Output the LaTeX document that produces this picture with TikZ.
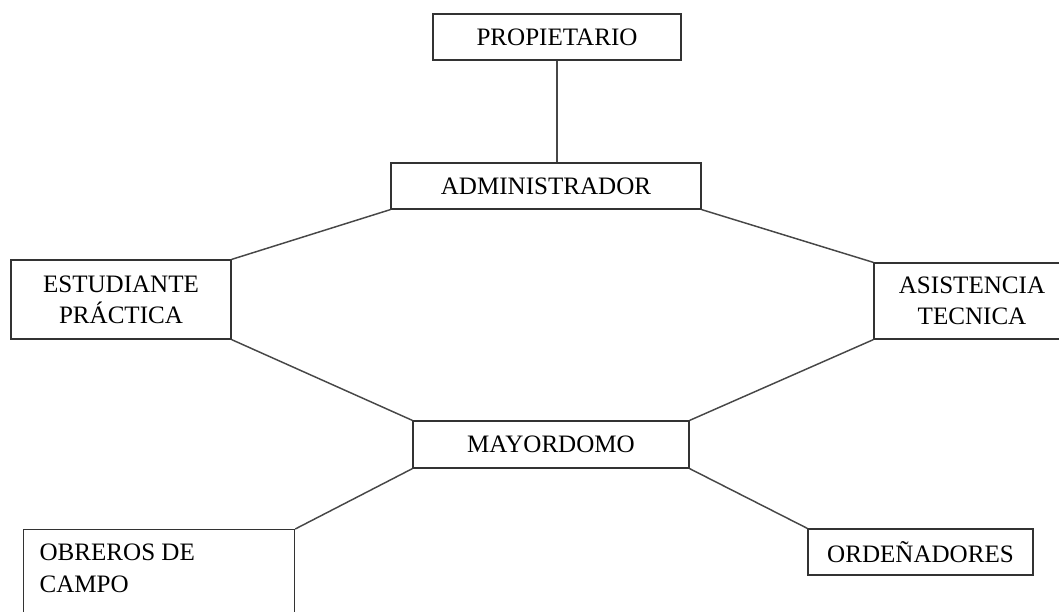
\documentclass[tikz,border=0pt]{standalone}
\usepackage{fontspec}
\setmainfont{Liberation Serif}
\begin{document}
\begin{tikzpicture}[x=0.75pt,y=-0.75pt,
  box/.style={draw=black!80, line width=0.9pt, rectangle, inner sep=0pt, align=center,
    font=\fontsize{18.8}{23.5}\selectfont, text=black},
  link/.style={draw=black!72, line width=1.1pt}]
\clip (0,0) rectangle (1059,611);
\useasboundingbox (0,0) rectangle (1059,611);
\node[box, minimum width=186pt, minimum height=34.5pt] (prop) at (557,37) {PROPIETARIO};
\node[box, minimum width=232.5pt, minimum height=34.5pt] (adm) at (546,186) {ADMINISTRADOR};
\node[box, minimum width=165pt, minimum height=59.25pt] (est) at (121,299.5) {ESTUDIANTE\\PRÁCTICA};
\node[box, minimum width=147pt, minimum height=57pt] (asis) at (972,301) {ASISTENCIA\\TECNICA};
\node[box, minimum width=207pt, minimum height=35.25pt] (may) at (551,444.5) {MAYORDOMO};
\node[box, minimum width=168.75pt, minimum height=34.5pt] (ord) at (920.5,552) {ORDEÑADORES};
\node[box, anchor=north west, inner xsep=12pt, inner ysep=6.5pt, align=left] (obr) at (23,529)
  {\parbox[t][90pt][t]{179.25pt}{\fontsize{18.8}{24}\selectfont\strut OBREROS DE\\\strut CAMPO}};
\draw[link] (prop.south) -- (prop.south |- adm.north);
\draw[link] (adm.south west) -- (est.north east);
\draw[link] (adm.south east) -- (asis.north west);
\draw[link] (est.south east) -- (may.north west);
\draw[link] (asis.south west) -- (may.north east);
\draw[link] (may.south west) -- (obr.north east);
\draw[link] (may.south east) -- (ord.north west);
\end{tikzpicture}
\end{document}
